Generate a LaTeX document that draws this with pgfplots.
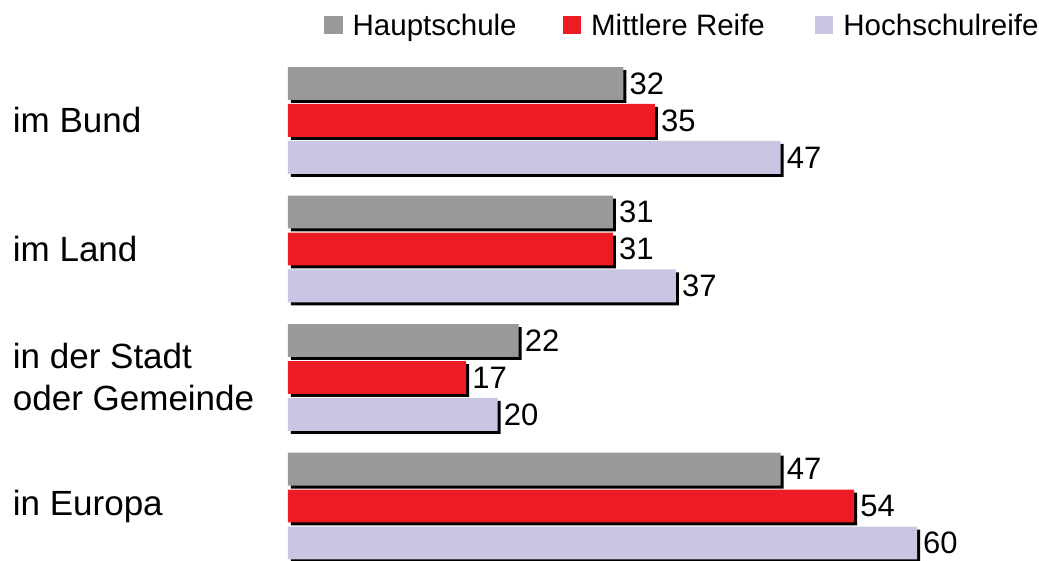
\documentclass[border=0pt]{standalone}
\usepackage{fontspec}
\setmainfont{Liberation Sans}
\usepackage{pgfplots}
\pgfplotsset{compat=1.18}
\definecolor{cgray}{RGB}{153,153,153}
\definecolor{cred}{RGB}{237,28,36}
\definecolor{clav}{RGB}{200,198,226}
\pgfplotstableread{
y val
0 32
1 31
2 22
3 47
}\hauptschule
\pgfplotstableread{
y val
0 35
1 31
2 17
3 54
}\mittlere
\pgfplotstableread{
y val
0 47
1 37
2 20
3 60
}\hochschul
\tikzset{shadow/.style={preaction={fill=black, draw=none, transform canvas={shift={(3pt,-3pt)}}}}}
\begin{document}
\begin{tikzpicture}
\useasboundingbox (0,0) rectangle (1039pt,560pt);
\begin{axis}[
  at={(288pt,0pt)}, anchor=south west,
  scale only axis, width=629pt, height=516.7pt,
  xbar, xmin=0, xmax=60, ymin=-0.6, ymax=3.42, y dir=reverse,
  bar width=0.256,
  ytick={0,1,2,3},
  yticklabels={im Bund, im Land, {in der Stadt\\oder Gemeinde}, in Europa},
  yticklabel style={anchor=west, align=left, inner sep=0pt, xshift=-271pt, font=\fontsize{35}{42}\selectfont},
  xtick=\empty,
  axis line style={draw=none}, tick style={draw=none},
  clip=false,
  /pgf/number format/assume math mode=true,
  nodes near coords,
  nodes near coords style={anchor=west, text=black, inner sep=0pt, xshift=6pt, font=\fontsize{31}{36}\selectfont},
  legend columns=3,
  legend image code/.code={\fill[#1] (0pt,-9pt) rectangle (18.5pt,9.5pt);},
  legend style={draw=none, fill=none, font=\fontsize{29.5}{34}\selectfont,
    at={(0.0572,1.035)}, anchor=west, inner sep=0pt,
    /tikz/every odd column/.append style={column sep=8pt},
    /tikz/column 2/.append style={column sep=44pt},
    /tikz/column 4/.append style={column sep=48pt}},
  legend cell align=left,
]
\addlegendimage{fill=cgray, draw=none}
\addlegendimage{fill=cred, draw=none}
\addlegendimage{fill=clav, draw=none}
\addplot[fill=cgray, draw=none, bar shift=-0.2875, shadow, forget plot] table[x=val, y=y] {\hauptschule};
\addplot[fill=cred, draw=none, bar shift=0, shadow, forget plot] table[x=val, y=y] {\mittlere};
\addplot[fill=clav, draw=none, bar shift=0.2875, shadow, forget plot] table[x=val, y=y] {\hochschul};
\legend{Hauptschule, Mittlere Reife, Hochschulreife}
\end{axis}
\end{tikzpicture}
\end{document}
